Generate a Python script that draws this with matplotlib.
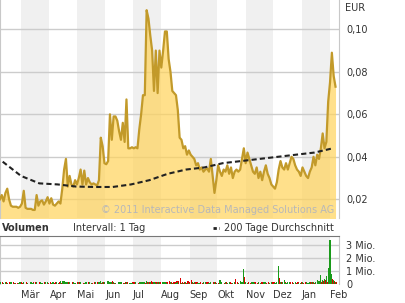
import pandas as pd
import matplotlib
matplotlib.use('Agg')
import matplotlib.pyplot as plt
from matplotlib.lines import Line2D
from matplotlib.ticker import FuncFormatter

# Kurs (EUR), ein Wert alle 2 Tage ab 06.02.2010
start = '2010-02-06'
price = [
    0.020, 0.022, 0.019, 0.023, 0.025, 0.020, 0.017, 0.0165, 0.0165, 0.0165,
    0.016, 0.0165, 0.018, 0.024, 0.016, 0.0155, 0.0155, 0.0155, 0.015, 0.015,
    0.022, 0.017, 0.019, 0.0195, 0.0175, 0.019, 0.021, 0.018, 0.0205, 0.0175,
    0.017, 0.018, 0.019, 0.018, 0.025, 0.034, 0.039, 0.026, 0.031, 0.027,
    0.026, 0.029, 0.027, 0.030, 0.034, 0.027, 0.0335, 0.027, 0.030, 0.028,
    0.027, 0.0275, 0.027, 0.0265, 0.029, 0.049, 0.045, 0.037, 0.0365, 0.038,
    0.060, 0.048, 0.059, 0.059, 0.057, 0.052, 0.048, 0.056, 0.047, 0.067,
    0.044, 0.044, 0.0445, 0.044, 0.0445, 0.044, 0.053, 0.060, 0.069, 0.069,
    0.109, 0.105, 0.097, 0.090, 0.071, 0.090, 0.070, 0.090, 0.082, 0.090,
    0.099, 0.099, 0.086, 0.080, 0.071, 0.070, 0.069, 0.062, 0.049, 0.048,
    0.044, 0.045, 0.041, 0.043, 0.041, 0.040, 0.039, 0.036, 0.037, 0.034,
    0.035, 0.033, 0.034, 0.0345, 0.033, 0.039, 0.031, 0.023, 0.029, 0.036,
    0.033, 0.031, 0.034, 0.033, 0.036, 0.032, 0.035, 0.030, 0.033, 0.034,
    0.033, 0.034, 0.039, 0.044, 0.037, 0.042, 0.039, 0.036, 0.033, 0.032,
    0.035, 0.030, 0.033, 0.029, 0.033, 0.036, 0.032, 0.030, 0.027, 0.026,
    0.025, 0.028, 0.034, 0.038, 0.035, 0.034, 0.037, 0.034, 0.037, 0.040,
    0.039, 0.036, 0.034, 0.033, 0.031, 0.035, 0.033, 0.031, 0.030, 0.033,
    0.035, 0.040, 0.036, 0.041, 0.039, 0.044, 0.051, 0.044, 0.047, 0.066,
    0.075, 0.089, 0.078, 0.073,
]

# 200 Tage Durchschnitt, ein Wert alle 20 Tage
ma_start = '2010-02-09'
ma200 = [0.0377, 0.031, 0.0275, 0.027, 0.026, 0.0258, 0.0258, 0.027, 0.029, 0.032,
         0.034, 0.035, 0.037, 0.038, 0.039, 0.040, 0.041, 0.042, 0.044]

# Volumen in Mio. (steigend / fallend)
vol_up = [
    .12, 0, .1, .15, .08, 0, .12, 0, .1, 0, .08, .12, 0, .15, 0, .1, 0, .12, .08, 0,
    .15, 0, .12, .1, 0, .18, .12, 0, .1, .15, 0, .12, .1, .2, .25, .22, .18, .12, .15, 0,
    .12, .1, 0, .15, .12, 0, .1, .12, 0, .15, .1, 0, .12, 0, .18, .22, .15, .12, 0, .2,
    .18, .12, .15, .1, 0, .12, .15, 0, .1, .18, 0, .08, .1, 0, .12, 0, .15, .18, .12, .16,
    .2, .15, .12, 0, .18, .1, .12, .15, 0, .12, .18, .1, 0, .12, .1, 0, .08, .12, 0, .1,
    .08, .12, 0, .1, 0, .12, .15, 0, .08, .1, 0, .12, .15, 0, .1, .18, 0, .12, .1, 0,
    .3, .12, 0, .15, .1, .12, 0, .08, .12, 0, .1, .2, .12, 1.15, .15, .1, 0, .12, .15, .1,
    0, .12, .1, 0, .12, .15, 0, .1, .12, 0, .08, .12, 1.35, .15, .12, .3, .1, .18, .12, 0,
    .1, .12, 0, .08, .1, .15, 0, .12, .1, .12, .15, .18, .12, .3, .2, .7, .3, .4, .6, 1.2,
    3.35, .75, .3, .15,
]
vol_down = [
    .1, .15, 0, .12, 0, .16, 0, .12, .08, .1, 0, .15, .08, 0, .12, 0, .1, 0, .15, .12,
    0, .12, .1, 0, .15, 0, .1, .12, 0, .08, .12, 0, .15, .1, 0, .12, .18, .15, 0, .12,
    .1, 0, .12, .15, 0, .1, .12, 0, .15, 0, .1, .12, 0, .15, .12, .1, .18, 0, .12, .1,
    .12, .2, .1, 0, .15, .12, 0, .1, .12, .15, .1, 0, .12, .15, 0, .1, .12, 0, .15, .1,
    .12, .18, .2, .15, .12, .18, .15, .12, .18, .1, .15, .12, .2, .18, .15, .12, .2, .22, .47, .18,
    .15, .1, .2, .12, .3, .1, .12, .15, 0, .12, .1, 0, .15, .12, .1, 0, .12, .15, 0, .1,
    .12, 0, .1, .12, 0, .15, .1, 0, .35, .12, 0, .1, .15, .55, 0, .12, .1, 0, .15, .12,
    .1, 0, .12, .15, 0, .1, .12, 0, .15, .12, .1, 0, .45, .12, 0, .15, .1, 0, .12, .15,
    0, .1, .12, 0, .15, .1, .12, 0, .1, .12, .15, .1, 0, .12, .18, .15, .2, .3, .12, .2,
    .25, .35, .2, .12,
]

months = ['Mär', 'Apr', 'Mai', 'Jun', 'Jul', 'Aug', 'Sep', 'Okt', 'Nov', 'Dez', 'Jan', 'Feb']
price_ticks = [0.02, 0.04, 0.06, 0.08, 0.10]
vol_ticks = [0, 1, 2, 3]
vol_labels = ['0', '1 Mio.', '2 Mio.', '3 Mio.']

dates = pd.date_range(start, periods=len(price), freq='2D')
ma_dates = pd.date_range(ma_start, periods=len(ma200), freq='20D')
month_starts = pd.date_range('2010-03-01', periods=13, freq='MS')
xlim = (pd.Timestamp('2010-02-06 02:00'), pd.Timestamp('2011-02-10 19:00'))

TXT = '#333333'
GRID = '#cccccc'
BAND = '#f0f0f0'
SPINE = '#c8c8c8'
plt.rcParams['font.family'] = ['DejaVu Sans']
plt.rcParams['font.size'] = 7

W, H = 405, 303
fig = plt.figure(figsize=(W / 100, H / 100), dpi=100)


def box(l, t, r, b):
    return [l / W, 1 - b / H, (r - l) / W, (b - t) / H]


ax = fig.add_axes(box(0, 0, 339, 218))
axv = fig.add_axes(box(0, 236, 339, 284))

for a in (ax, axv):
    a.set_xlim(*xlim)
    for k in range(0, 12, 2):
        a.axvspan(month_starts[k], month_starts[k + 1], color=BAND, lw=0, zorder=0)
    a.yaxis.tick_right()
    a.tick_params(length=0, colors=TXT, labelsize=7)
    a.spines['left'].set_color(SPINE)
    a.spines['right'].set_color(SPINE)
    a.spines['bottom'].set_visible(False)

# Kurs
ax.set_ylim(0.0112, 0.1138)
for v in price_ticks:
    ax.axhline(v, color=GRID, lw=1, zorder=1)
ax.fill_between(dates, price, 0, color='#ffd45e', alpha=0.72, lw=0, zorder=2)
ax.plot(dates, price, color='#c29a2a', lw=1.6, zorder=3)
ax.plot(ma_dates, ma200, color='#222222', lw=1.5, dashes=(2.5, 1.5), zorder=4)
ax.set_yticks(price_ticks)
ax.yaxis.set_major_formatter(FuncFormatter(lambda v, p: f'{v:.2f}'.replace('.', ',')))
ax.tick_params(axis='y', pad=5)
ax.set_xticks([])
ax.spines['top'].set_visible(False)
fig.text(345 / W, 1 - 8 / H, 'EUR', color=TXT, fontsize=7, va='center')
fig.text(334 / W, 1 - 210 / H, '\u00a9 2011 Interactive Data Managed Solutions AG',
         ha='right', va='center', color='#b8b8b8', fontsize=7)

# Volumen
axv.set_ylim(0, 3.69)
for v in vol_ticks[1:]:
    axv.axhline(v, color=GRID, lw=1, zorder=1)
axv.bar(dates + pd.Timedelta(days=1), vol_down, width=1.4, color='#dd0000', lw=0, zorder=2)
axv.bar(dates, vol_up, width=1.4, color='#1a9a1a', lw=0, zorder=3)
axv.set_yticks(vol_ticks)
axv.set_yticklabels(vol_labels)
axv.tick_params(axis='y', pad=5)
axv.set_xticks(month_starts[:12])
axv.set_xticklabels(months, ha='left')
axv.tick_params(axis='x', pad=4)
axv.spines['top'].set_color('#777777')

# Kopfzeile Volumen
fig.text(2 / W, 1 - 228 / H, 'Volumen', fontweight='bold', color=TXT, va='center')
fig.text(73 / W, 1 - 228 / H, 'Intervall: 1 Tag', color=TXT, va='center')
fig.lines.append(Line2D([213 / W, 219 / W], [1 - 228 / H, 1 - 228 / H], transform=fig.transFigure,
                        color='#222222', lw=2, dashes=(1.2, 0.8)))
fig.text(224 / W, 1 - 228 / H, '200 Tage Durchschnitt', color=TXT, va='center')

fig.savefig('out.png', dpi=100)
